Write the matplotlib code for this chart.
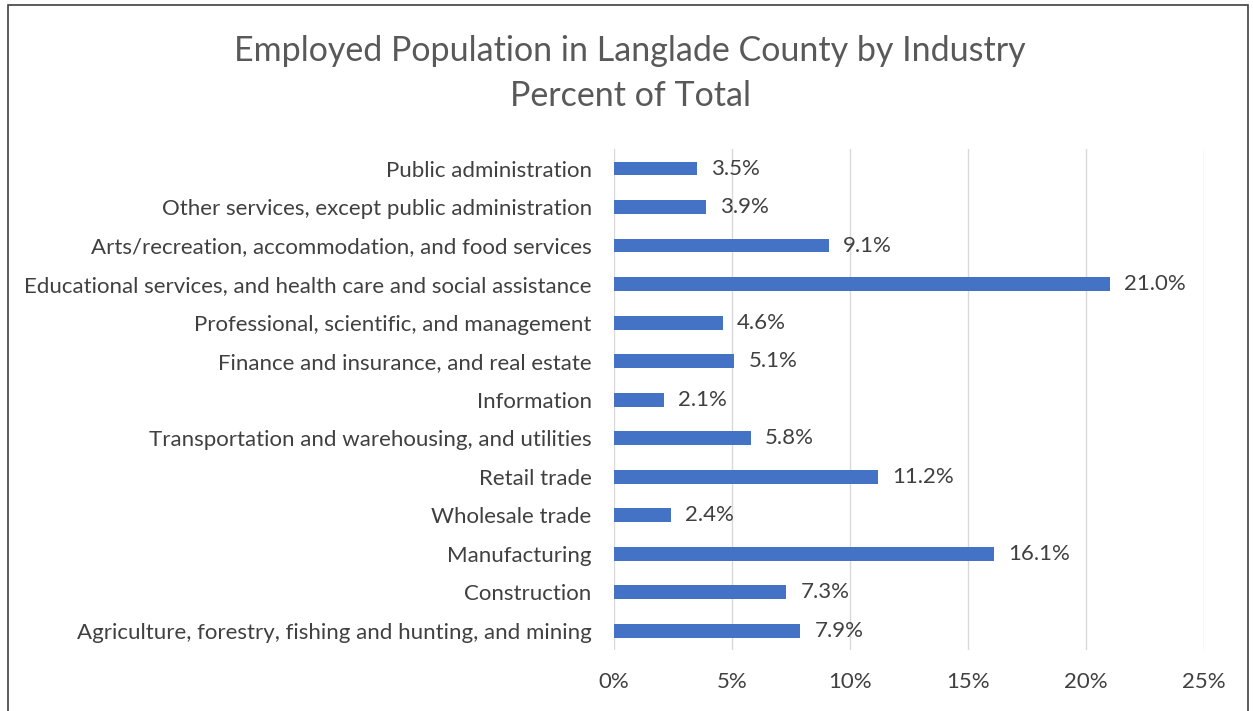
import matplotlib.pyplot as plt
from matplotlib.patches import Rectangle
from matplotlib.ticker import FuncFormatter

industries = [
    'Agriculture, forestry, fishing and hunting, and mining',
    'Construction',
    'Manufacturing',
    'Wholesale trade',
    'Retail trade',
    'Transportation and warehousing, and utilities',
    'Information',
    'Finance and insurance, and real estate',
    'Professional, scientific, and management',
    'Educational services, and health care and social assistance',
    'Arts/recreation, accommodation, and food services',
    'Other services, except public administration',
    'Public administration',
]
percent = [7.9, 7.3, 16.1, 2.4, 11.2, 5.8, 2.1, 5.1, 4.6, 21.0, 9.1, 3.9, 3.5]
xticks = [0, 5, 10, 15, 20, 25]

plt.rcParams['font.family'] = ['Lato', 'DejaVu Sans']
txt = '#404040'

fig = plt.figure(figsize=(12.53, 7.11), dpi=100)
ax = fig.add_axes([0.490, 0.086, 0.471, 0.704])

ax.barh(range(len(industries)), percent, height=0.36, color='#4472C4', zorder=3)
for i, v in enumerate(percent):
    ax.text(v + 0.6, i, f'{v:.1f}%', va='center', ha='left', fontsize=16, color=txt)

ax.set_xlim(0, 25)
ax.set_ylim(-0.5, len(industries) - 0.5)
ax.set_xticks(xticks)
ax.xaxis.set_major_formatter(FuncFormatter(lambda x, p: f'{x:.0f}%'))
ax.set_yticks(range(len(industries)))
ax.set_yticklabels(industries)
ax.tick_params(axis='both', length=0, labelsize=16, colors=txt)
ax.tick_params(axis='x', pad=16)
ax.tick_params(axis='y', pad=16)
ax.grid(axis='x', color='#d9d9d9', linewidth=1, zorder=0)
for s in ax.spines.values():
    s.set_visible(False)

fig.text(0.503, 0.928, 'Employed Population in Langlade County by Industry',
         ha='center', va='center', fontsize=24.5, color='#595959')
fig.text(0.503, 0.865, 'Percent of Total',
         ha='center', va='center', fontsize=24.5, color='#595959')

fig.patches.append(Rectangle((0.006, -0.01), 0.99, 1.003, transform=fig.transFigure,
                             fill=False, edgecolor='#404040', linewidth=1.2))

plt.savefig('out.png', dpi=100)
